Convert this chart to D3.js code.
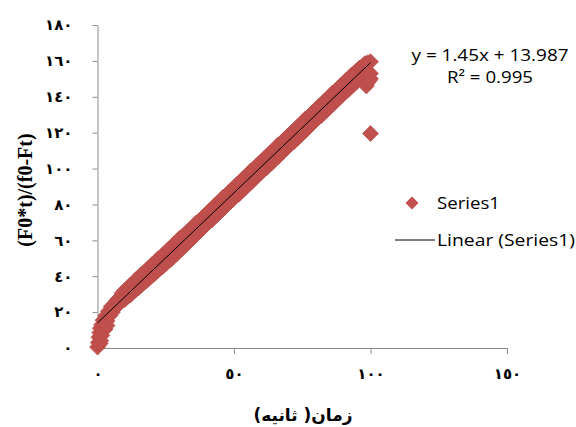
<!DOCTYPE html>
<html>
<head>
<meta charset="utf-8">
<script src="https://cdn.jsdelivr.net/npm/d3@7"></script>
<style>
  body { margin: 0; background: #fff; }
  svg { display: block; }
  .axis path, .axis line { stroke: #8c8c8c; }
  .axis text { font-family: "DejaVu Sans", sans-serif; font-weight: bold; font-size: 15px; fill: #000; }
</style>
</head>
<body>
<svg id="chart"></svg>
<script>

var width = 576;
var height = 427;

// first seconds, where the curve rises steeply
var earlyTimes = [0, 0.3, 0.5, 0.8, 1, 1, 1.2, 1.6, 1.5, 2, 2, 2.8, 2.5, 3, 3.5, 3.5, 4, 4.5, 5, 5.5, 6, 6.5, 7, 7.5, 8, 8.5, 9, 9.5];
var earlyValues = [0.5, 3, 6, 8.5, 11, 2.5, 4, 7, 13, 10, 15.5, 10.5, 13, 18, 15, 12.5, 20.5, 18, 23, 20, 24.5, 22.5, 26.5, 24, 28, 26, 30.5, 27.5];

// 10..100 s, upper and lower readings of the band
var times = [10, 11, 12, 13, 14, 15, 16, 17, 18, 19, 20,
  21, 22, 23, 24, 25, 26, 27, 28, 29, 30, 31, 32, 33, 34, 35, 36, 37, 38, 39, 40,
  41, 42, 43, 44, 45, 46, 47, 48, 49, 50, 51, 52, 53, 54, 55, 56, 57, 58, 59, 60,
  61, 62, 63, 64, 65, 66, 67, 68, 69, 70, 71, 72, 73, 74, 75, 76, 77, 78, 79, 80,
  81, 82, 83, 84, 85, 86, 87, 88, 89, 90, 91, 92, 93, 94, 95, 96, 97, 98, 99, 100];
var valuesUpper = [32, 33.5, 35, 36, 38, 39, 41, 42, 43.5, 45, 46.5,
  47.5, 49.5, 50.5, 52, 53.5, 55, 56, 58, 59, 61, 62, 63.5, 65, 66, 67.5, 69.5, 70.5, 72, 73.5, 75,
  76.5, 77.5, 79.5, 80.5, 82, 84, 85, 86.5, 88, 89.5, 91, 92, 94, 95, 96.5, 98.5, 99.5, 101, 102.5, 104,
  105.5, 106.5, 108.5, 109.5, 111, 113, 114, 115.5, 117, 118.5, 120, 121, 123, 124, 125.5, 127.5, 128.5, 130, 131.5, 133,
  134.5, 135.5, 137.5, 138.5, 140, 142, 143, 144.5, 146, 147.5, 149, 150, 152, 153, 154.5, 156, 157, 158.5, 159, 159.5];
var valuesLower = [27, 28.5, 29.5, 31, 32.5, 33.5, 35, 36.5, 37.5, 39, 40.5,
  41.5, 43, 44.5, 45.5, 47, 48.5, 49.5, 51.5, 52.5, 54, 55.5, 57, 58.5, 60, 61.5, 63, 64.5, 66, 67.5, 69,
  70.5, 71.5, 73.5, 74.5, 76, 77.5, 79, 80.5, 82, 83.5, 85, 86, 88, 89, 90.5, 92, 93.5, 95, 96.5, 98,
  99.5, 100.5, 102.5, 103.5, 105, 106.5, 108, 109.5, 111, 112.5, 114, 115, 117, 118, 119.5, 121, 122.5, 124, 125.5, 127,
  128.5, 129.5, 131.5, 132.5, 134, 135.5, 137, 138.5, 140, 141.5, 143, 144, 146, 147, 148.5, 150, 151.5, 153, 148, 150];

// stray points at the end of the run
var extraTimes = [98.5, 99.5, 100, 100];
var extraValues = [146, 149, 153, 119.5];

// linear trendline from the chart label
var slope = 1.45;
var intercept = 13.987;
var fitRange = [0, 100];

var xTicks = [0, 50, 100, 150];
var yTicks = [0, 20, 40, 60, 80, 100, 120, 140, 160, 180];

var legendLabels = ["Series1", "Linear (Series1)"];
var equationLines = ["y = 1.45x + 13.987", "R² = 0.995"];

var xTitle = "زمان( ثانیه)";
var yTitle = "(F0*t)/(f0-Ft)";

var arabicDigits = "٠١٢٣٤٥٦٧٨٩";
function toArabic(n) {
  return String(n).replace(/[0-9]/g, function(c) { return arabicDigits[+c]; });
}

var svg = d3.select("#chart").attr("width", width).attr("height", height);

var x = d3.scaleLinear().domain([0, 150]).range([97.5, 507]);
var y = d3.scaleLinear().domain([0, 180]).range([348, 25]);

svg.append("g")
  .attr("class", "axis")
  .attr("transform", "translate(0," + y(0) + ")")
  .call(d3.axisBottom(x).tickValues(xTicks).tickSize(6).tickSizeOuter(0).tickPadding(14).tickFormat(toArabic));

svg.append("g")
  .attr("class", "axis")
  .attr("transform", "translate(" + x(0) + ",0)")
  .call(d3.axisLeft(y).tickValues(yTicks).tickSize(5).tickSizeOuter(0).tickPadding(20).tickFormat(toArabic));

var points = [];
earlyTimes.forEach(function(t, i) { points.push([t, earlyValues[i]]); });
times.forEach(function(t, i) {
  points.push([t, valuesUpper[i]]);
  points.push([t, valuesLower[i]]);
});
extraTimes.forEach(function(t, i) { points.push([t, extraValues[i]]); });

var diamond = d3.symbol().type(d3.symbolSquare).size(128);

svg.append("g")
  .selectAll("path")
  .data(points)
  .enter().append("path")
  .attr("d", diamond)
  .attr("fill", "#C0504D")
  .attr("stroke", "#B84A47")
  .attr("stroke-width", 0.6)
  .attr("transform", function(d) { return "translate(" + x(d[0]) + "," + y(d[1]) + ") rotate(45)"; });

svg.append("line")
  .attr("x1", x(fitRange[0])).attr("y1", y(slope * fitRange[0] + intercept))
  .attr("x2", x(fitRange[1])).attr("y2", y(slope * fitRange[1] + intercept))
  .attr("stroke", "#000")
  .attr("stroke-width", 1);

// equation label
svg.append("g").selectAll("text")
  .data(equationLines)
  .enter().append("text")
  .attr("x", 490)
  .attr("y", function(d, i) { return 61 + i * 22; })
  .attr("text-anchor", "middle")
  .attr("textLength", function(d, i) { return i == 0 ? 157 : 86; })
  .attr("lengthAdjust", "spacingAndGlyphs")
  .style("font-family", "'Open Sans', sans-serif")
  .style("font-size", "17px")
  .text(function(d) { return d; });

// legend
var legend = svg.append("g");
legend.append("path")
  .attr("d", d3.symbol().type(d3.symbolSquare).size(85))
  .attr("fill", "#C0504D")
  .attr("transform", "translate(412,203) rotate(45)");
legend.append("line")
  .attr("x1", 395).attr("x2", 435).attr("y1", 240).attr("y2", 240)
  .attr("stroke", "#000").attr("stroke-width", 1);
legend.selectAll("text")
  .data(legendLabels)
  .enter().append("text")
  .attr("x", 437)
  .attr("y", function(d, i) { return 209 + i * 37; })
  .attr("textLength", function(d, i) { return i == 0 ? 63 : 138; })
  .attr("lengthAdjust", "spacingAndGlyphs")
  .style("font-family", "'Open Sans', sans-serif")
  .style("font-size", "16px")
  .text(function(d) { return d; });

svg.append("text")
  .attr("x", 303)
  .attr("y", 421)
  .attr("text-anchor", "middle")
  .attr("direction", "rtl")
  .style("font-family", "'DejaVu Sans', sans-serif")
  .style("font-weight", "bold")
  .style("font-size", "17px")
  .text(xTitle);

svg.append("text")
  .attr("transform", "translate(32,190) rotate(-90)")
  .attr("text-anchor", "middle")
  .style("font-family", "'Liberation Serif', serif")
  .style("font-weight", "bold")
  .style("font-size", "20px")
  .text(yTitle);

</script>
</body>
</html>
